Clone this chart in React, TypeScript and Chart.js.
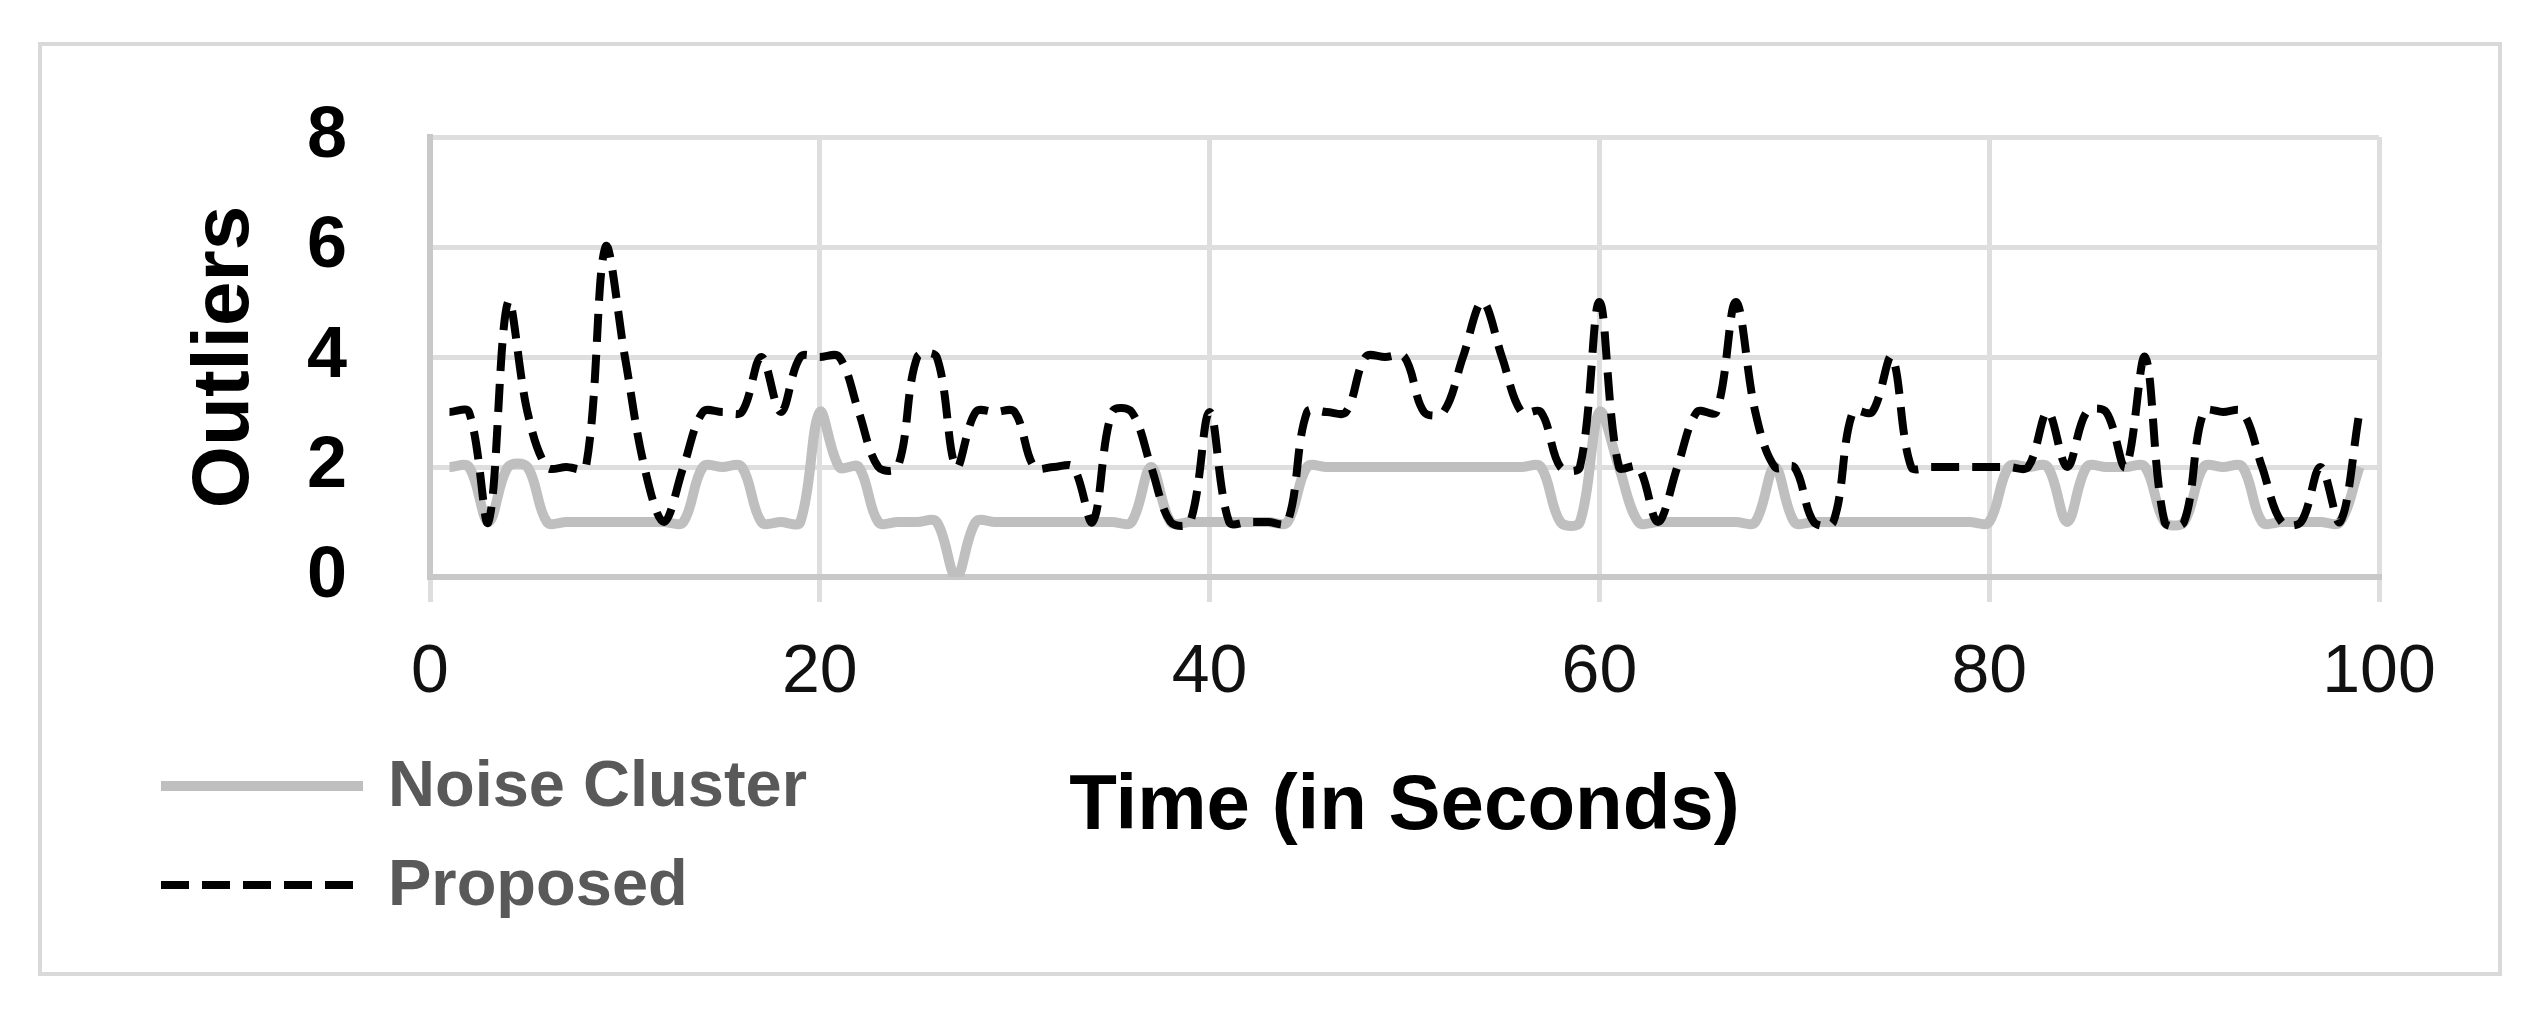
import React, { useEffect, useRef } from "react";
import { Chart, registerables } from "chart.js";

Chart.register(...registerables);

// Time axis (seconds)
const timeSeconds: number[] = [
  1, 2, 3, 4, 5, 6, 7, 8, 9, 10, 11, 12, 13, 14, 15, 16, 17, 18, 19, 20,
  21, 22, 23, 24, 25, 26, 27, 28, 29, 30, 31, 32, 33, 34, 35, 36, 37, 38, 39, 40,
  41, 42, 43, 44, 45, 46, 47, 48, 49, 50, 51, 52, 53, 54, 55, 56, 57, 58, 59, 60,
  61, 62, 63, 64, 65, 66, 67, 68, 69, 70, 71, 72, 73, 74, 75, 76, 77, 78, 79, 80,
  81, 82, 83, 84, 85, 86, 87, 88, 89, 90, 91, 92, 93, 94, 95, 96, 97, 98, 99,
];

// Outliers – Noise Cluster
const noiseCluster: number[] = [
  2, 2, 1, 2, 2, 1, 1, 1, 1, 1, 1, 1, 1, 2, 2, 2, 1, 1, 1, 3,
  2, 2, 1, 1, 1, 1, 0, 1, 1, 1, 1, 1, 1, 1, 1, 1, 2, 1, 1, 1,
  1, 1, 1, 1, 2, 2, 2, 2, 2, 2, 2, 2, 2, 2, 2, 2, 2, 1, 1, 3,
  2, 1, 1, 1, 1, 1, 1, 1, 2, 1, 1, 1, 1, 1, 1, 1, 1, 1, 1, 1,
  2, 2, 2, 1, 2, 2, 2, 2, 1, 1, 2, 2, 2, 1, 1, 1, 1, 1, 2,
];

// Outliers – Proposed
const proposed: number[] = [
  3, 3, 1, 5, 3, 2, 2, 2, 6, 4, 2, 1, 2, 3, 3, 3, 4, 3, 4, 4,
  4, 3, 2, 2, 4, 4, 2, 3, 3, 3, 2, 2, 2, 1, 3, 3, 2, 1, 1, 3,
  1, 1, 1, 1, 3, 3, 3, 4, 4, 4, 3, 3, 4, 5, 4, 3, 3, 2, 2, 5,
  2, 2, 1, 2, 3, 3, 5, 3, 2, 2, 1, 1, 3, 3, 4, 2, 2, 2, 2, 2,
  2, 2, 3, 2, 3, 3, 2, 4, 1, 1, 3, 3, 3, 2, 1, 1, 2, 1, 3,
];

const seriesLabels: string[] = ["Noise Cluster", "Proposed"];
const xTitle = "Time (in Seconds)";
const yTitle = "Outliers";

const W = 2532;
const H = 1015;
const FONT = '"Liberation Sans", Arial, sans-serif';

const frameAndLegend = {
  id: "frameAndLegend",
  beforeDraw(chart: any) {
    const ctx = chart.ctx;
    ctx.save();
    ctx.fillStyle = "#ffffff";
    ctx.fillRect(0, 0, chart.width, chart.height);
    ctx.strokeStyle = "#d9d9d9";
    ctx.lineWidth = 4;
    ctx.strokeRect(40, 44, 2460, 930);
    ctx.restore();
  },
  afterDraw(chart: any) {
    const ctx = chart.ctx;
    const rows = [786, 885];
    ctx.save();
    chart.data.datasets.forEach((ds: any, i: number) => {
      const y = rows[i];
      ctx.strokeStyle = ds.borderColor;
      ctx.lineWidth = ds.borderWidth;
      ctx.setLineDash(ds.borderDash || []);
      ctx.lineCap = "butt";
      ctx.beginPath();
      ctx.moveTo(161, y);
      ctx.lineTo(363, y);
      ctx.stroke();
      ctx.setLineDash([]);
      ctx.fillStyle = "#595959";
      ctx.font = `bold 65px ${FONT}`;
      ctx.textBaseline = "middle";
      ctx.textAlign = "left";
      ctx.fillText(ds.label, 388, y + 2);
    });
    ctx.restore();
  },
};

export default function App() {
  const ref = useRef<HTMLCanvasElement | null>(null);

  useEffect(() => {
    if (!ref.current) return;
    const chart = new Chart(ref.current, {
      type: "line",
      data: {
        datasets: [
          {
            label: seriesLabels[0],
            data: timeSeconds.map((t, i) => ({ x: t, y: noiseCluster[i] })),
            borderColor: "#bfbfbf",
            borderWidth: 10,
            pointRadius: 0,
            tension: 0.35,
            fill: false,
            order: 2,
          },
          {
            label: seriesLabels[1],
            data: timeSeconds.map((t, i) => ({ x: t, y: proposed[i] })),
            borderColor: "#000000",
            borderWidth: 8,
            borderDash: [28, 13],
            pointRadius: 0,
            tension: 0.35,
            fill: false,
            order: 1,
          },
        ],
      },
      options: {
        responsive: false,
        animation: false,
        devicePixelRatio: 1,
        layout: { padding: { left: 0, top: 137, right: 153, bottom: 0 } },
        plugins: {
          legend: { display: false },
          tooltip: { enabled: false },
        },
        scales: {
          x: {
            type: "linear",
            min: 0,
            max: 100,
            afterFit: (s: any) => {
              s.height = 438;
            },
            ticks: {
              stepSize: 20,
              color: "#111111",
              font: { family: FONT, size: 68, weight: "normal" },
              padding: 30,
              maxRotation: 0,
            },
            grid: {
              color: "#dedede",
              lineWidth: 5,
              drawTicks: true,
              tickLength: 25,
              tickColor: "#dedede",
            },
            border: { color: "#c8c8c8", width: 6 },
            title: {
              display: true,
              text: xTitle,
              color: "#000000",
              font: { family: FONT, size: 78, weight: "bold" },
              padding: { top: 0, bottom: 161 },
            },
          },
          y: {
            min: 0,
            max: 8,
            afterFit: (s: any) => {
              s.width = 430;
            },
            ticks: {
              stepSize: 2,
              color: "#000000",
              font: { family: FONT, size: 72, weight: "bold" },
              padding: 83,
            },
            grid: {
              color: "#dedede",
              lineWidth: 5,
              drawTicks: false,
            },
            border: { color: "#c8c8c8", width: 6 },
            title: {
              display: true,
              text: yTitle,
              color: "#000000",
              font: { family: FONT, size: 80, weight: "bold" },
              padding: { top: 178, bottom: 0 },
            },
          },
        },
      },
      plugins: [frameAndLegend],
    } as any);
    return () => chart.destroy();
  }, []);

  return (
    <div style={{ position: "absolute", left: 0, top: 0, width: W, height: H }}>
      <canvas ref={ref} width={W} height={H} style={{ width: W, height: H, display: "block" }} />
    </div>
  );
}
